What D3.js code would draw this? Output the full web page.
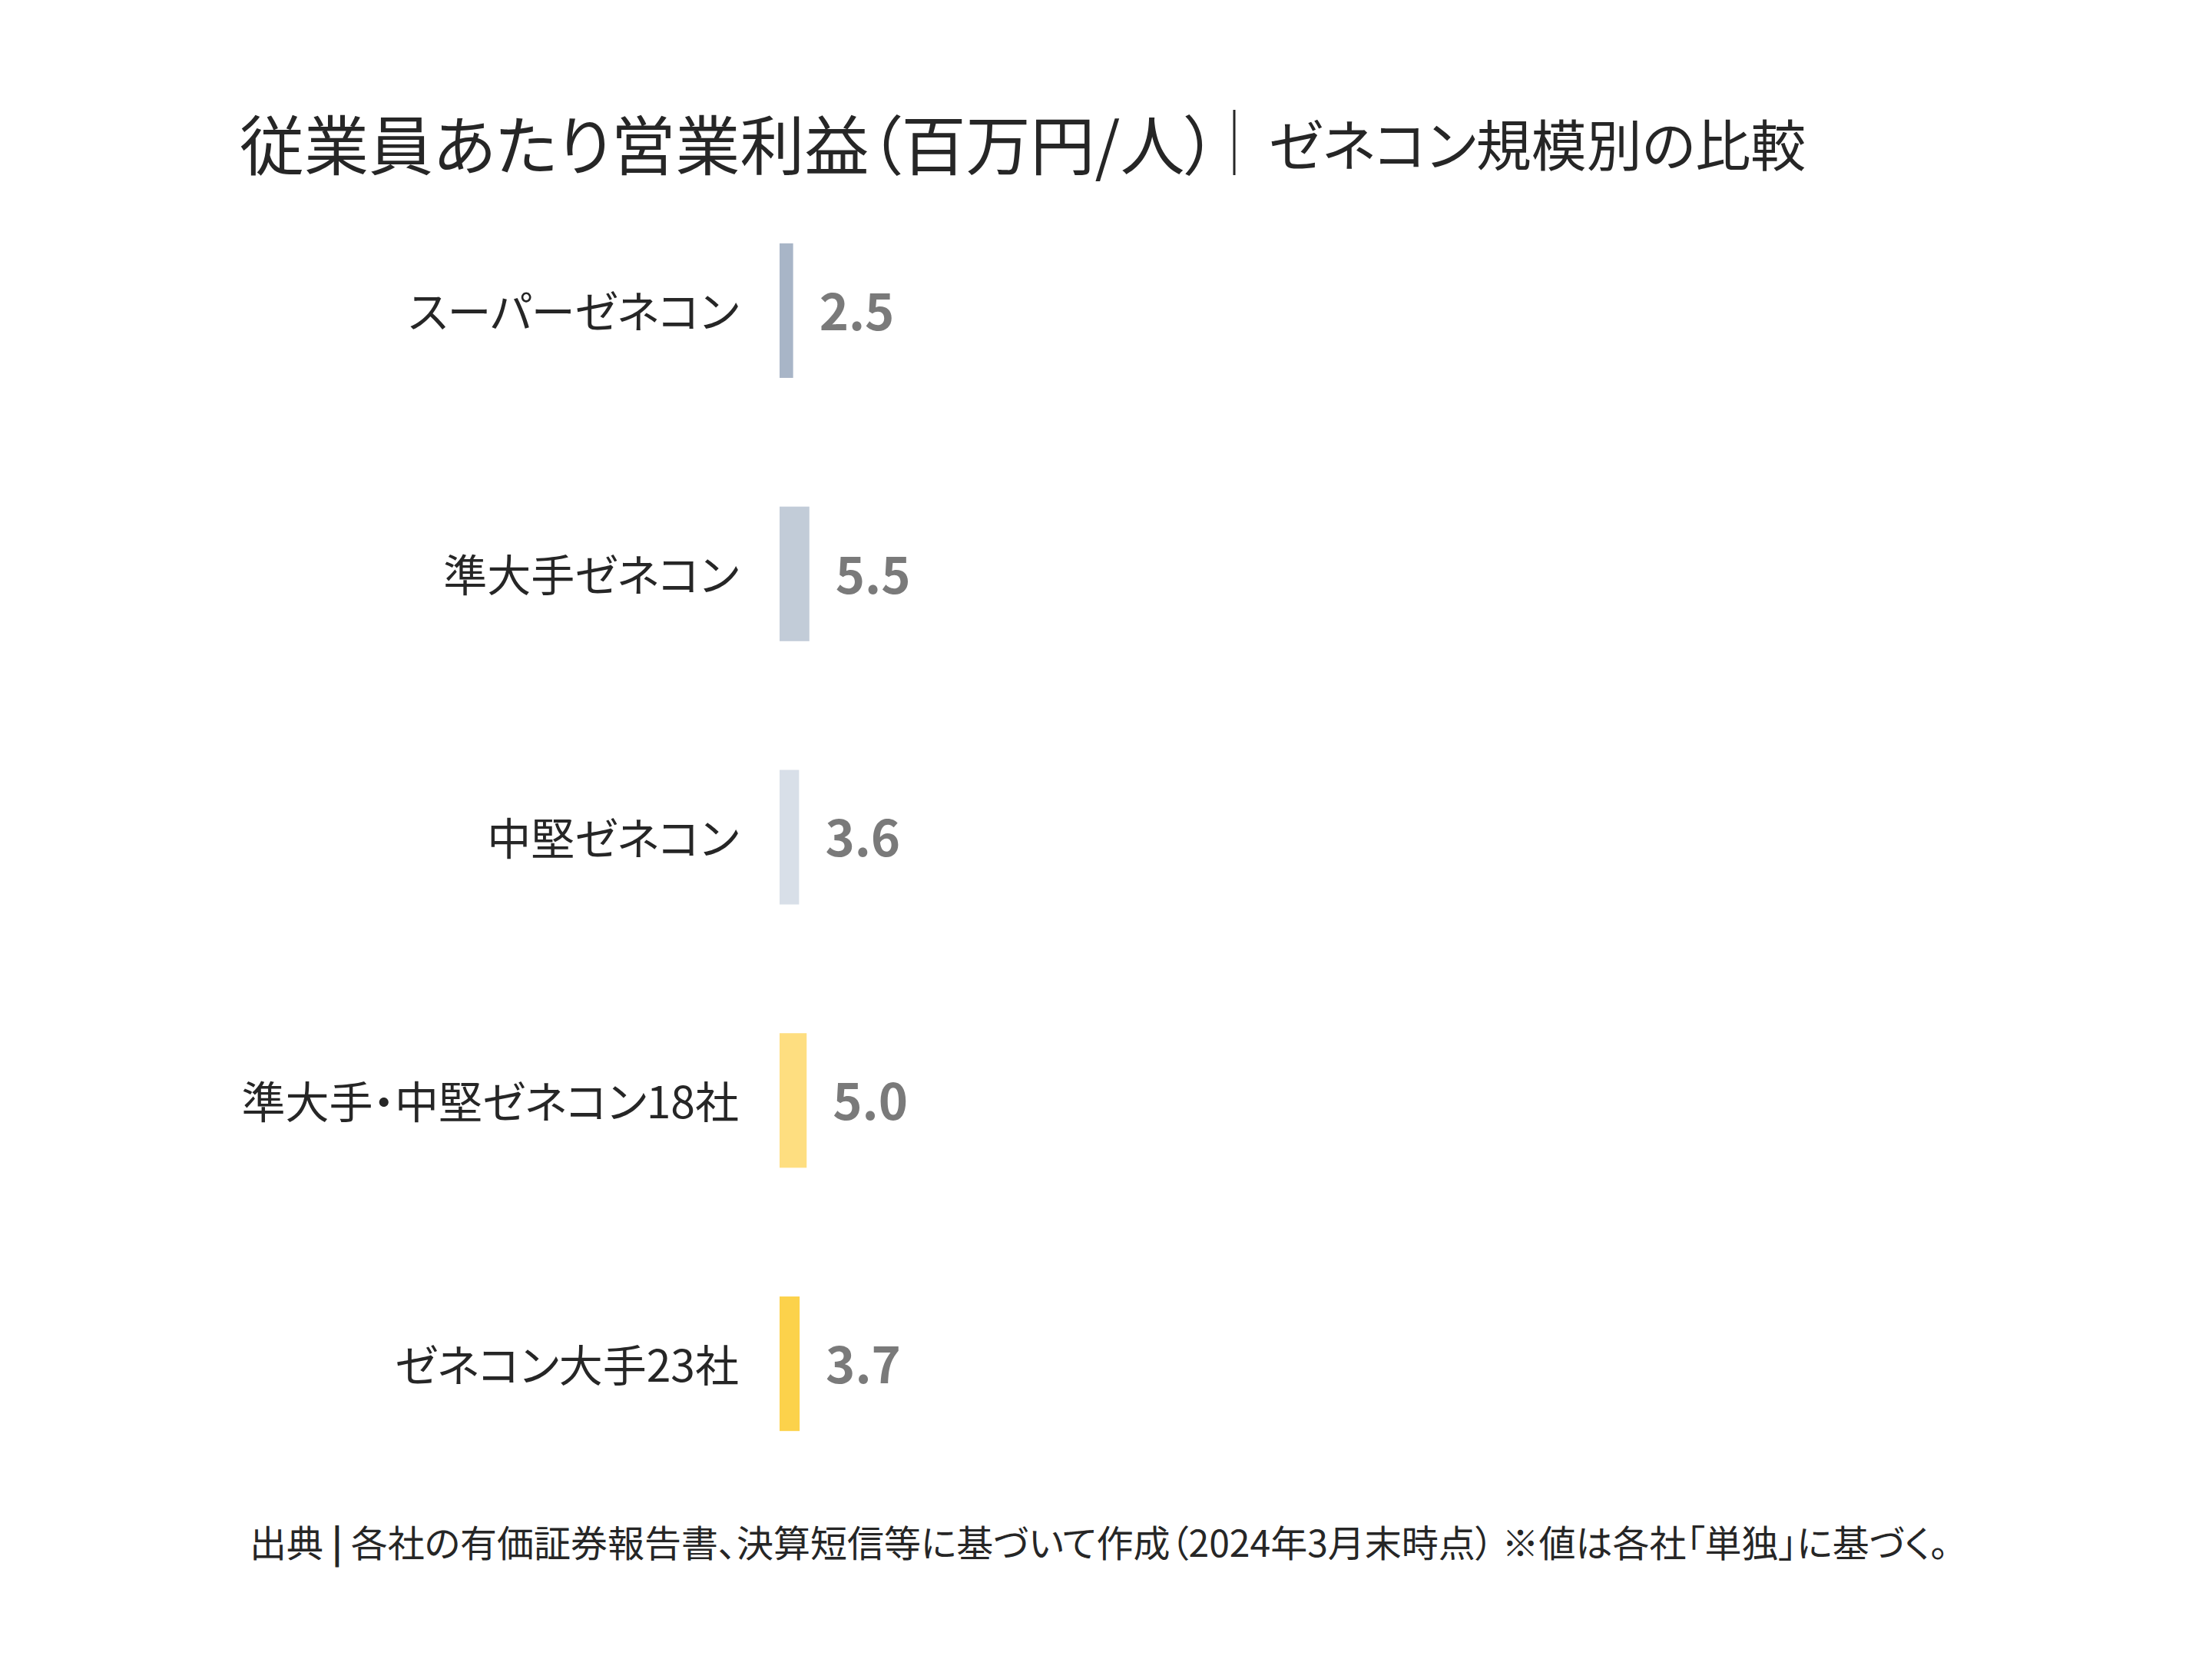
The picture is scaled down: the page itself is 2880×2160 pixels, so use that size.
<!DOCTYPE html>
<html lang="ja">
<head>
<meta charset="utf-8">
<script src="https://cdn.jsdelivr.net/npm/d3@7"></script>
<style>
  body { margin: 0; background: #fff; }
  text { font-family: "Noto Sans CJK JP", "Noto Sans", sans-serif; font-feature-settings: "palt"; }
</style>
</head>
<body>
<svg id="chart" width="2880" height="2160"></svg>
<script>
// data
var categories = ['スーパーゼネコン', '準大手ゼネコン', '中堅ゼネコン', '準大手・中堅ゼネコン18社', 'ゼネコン大手23社'];
var values = [2.5, 5.5, 3.6, 5.0, 3.7];
var barColors = ['#a8b5c7', '#c2ccd8', '#d8dfe8', '#fede80', '#fcd24b'];
var titleText = '従業員あたり営業利益（百万円/人）';
var subtitleText = 'ゼネコン規模別の比較';
var sourceLead = '出典';
var sourceText = '各社の有価証券報告書、決算短信等に基づいて作成（2024年3月末時点） ※値は各社「単独」に基づく。';

var data = categories.map(function(c, i) {
    return { name: c, value: values[i], color: barColors[i] };
});

var svg = d3.select('#chart');
svg.append('rect').attr('width', 2880).attr('height', 2160).attr('fill', '#fff');

// layout
var barLeft = 1015;
var labelRight = 962;

var x = d3.scaleLinear()
    .domain([0, 10])
    .range([barLeft, barLeft + 70.5]);

var y = d3.scaleBand()
    .domain(categories)
    .range([233, 1947])
    .paddingInner(0.489)
    .paddingOuter(0.2445);

// title
var titleG = svg.append('g').attr('fill', '#262626');
titleG.append('text')
    .attr('x', 312)
    .attr('y', 184)
    .attr('dominant-baseline', 'central')
    .attr('font-size', 84)
    .text(titleText);

titleG.append('line')
    .attr('x1', 1607).attr('x2', 1607)
    .attr('y1', 143).attr('y2', 228)
    .attr('stroke', '#262626')
    .attr('stroke-width', 3);

titleG.append('text')
    .attr('x', 1652)
    .attr('y', 184)
    .attr('dominant-baseline', 'central')
    .attr('font-size', 72)
    .text(subtitleText);

// bars
var rows = svg.append('g').selectAll('g')
    .data(data)
    .enter().append('g');

rows.append('rect')
    .attr('x', x(0))
    .attr('y', function(d) { return y(d.name); })
    .attr('width', function(d) { return x(d.value) - x(0); })
    .attr('height', y.bandwidth())
    .attr('fill', function(d) { return d.color; });

// category labels
rows.append('text')
    .attr('x', labelRight)
    .attr('y', function(d) { return y(d.name) + y.bandwidth() / 2 - 2; })
    .attr('dominant-baseline', 'central')
    .attr('text-anchor', 'end')
    .attr('font-size', 57)
    .attr('fill', '#262626')
    .text(function(d) { return d.name; });

// value labels
rows.append('text')
    .attr('x', function(d) { return x(d.value) + 34; })
    .attr('y', function(d) { return y(d.name) + y.bandwidth() / 2 + 2; })
    .attr('dy', '0.36em')
    .attr('font-family', '"Open Sans", sans-serif')
    .attr('font-weight', 700)
    .attr('font-size', 65)
    .attr('fill', '#7a7a7a')
    .text(function(d) { return d3.format('.1f')(d.value); });

// source note
var note = svg.append('text')
    .attr('x', 325)
    .attr('y', 2006)
    .attr('dominant-baseline', 'central')
    .attr('font-size', 48)
    .attr('fill', '#262626');
note.append('tspan').text(sourceLead + ' ');
note.append('tspan').attr('font-weight', 700).text('|');
note.append('tspan').text(' ' + sourceText);
</script>
</body>
</html>
